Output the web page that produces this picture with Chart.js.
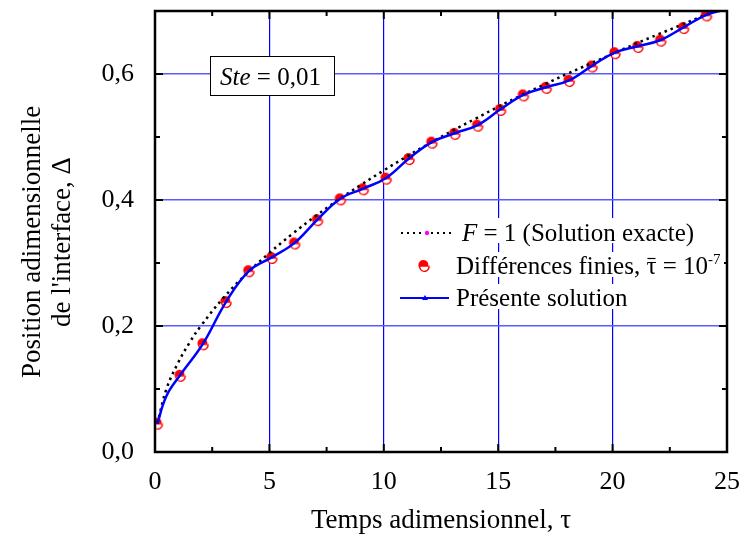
<!DOCTYPE html>
<html>
<head>
<meta charset="utf-8">
<script src="https://cdn.jsdelivr.net/npm/chart.js@4.4.0/dist/chart.umd.min.js"></script>
<style>
  html, body { margin: 0; padding: 0; background: #fff; }
  #wrap { width: 742px; height: 546px; position: relative; }
</style>
</head>
<body>
<div id="wrap"><canvas id="chart"></canvas></div>
<script>
// ==========================================
// Data
// ==========================================

// Différences finies (markers)
const tempsDF = [0.1, 1.1, 2.1, 3.1, 4.1, 5.1, 6.1, 7.1, 8.1, 9.1, 10.1, 11.1, 12.1,
                 13.1, 14.1, 15.1, 16.1, 17.1, 18.1, 19.1, 20.1, 21.1, 22.1, 23.1, 24.1];
const deltaDF = [0.045, 0.121, 0.171, 0.238, 0.287, 0.308, 0.331, 0.368, 0.401, 0.417, 0.434, 0.465, 0.491,
                 0.505, 0.518, 0.543, 0.566, 0.578, 0.589, 0.612, 0.633, 0.643, 0.653, 0.673, 0.693];

// Présente solution (blue line)
const tempsPS = [0.1, 0.5, 1.1, 2.1, 3.1, 4.1, 5.1, 6.1, 7.1, 8.1, 9.1, 10.1, 11.1, 12.1,
                 13.1, 14.1, 15.1, 16.1, 17.1, 18.1, 19.1, 20.1, 21.1, 22.1, 23.1, 24.1, 25];
const deltaPS = [0.045, 0.089, 0.122, 0.172, 0.238, 0.287, 0.309, 0.332, 0.369, 0.402, 0.418, 0.435, 0.466, 0.492,
                 0.506, 0.519, 0.544, 0.567, 0.579, 0.590, 0.613, 0.634, 0.644, 0.654, 0.674, 0.694, 0.703];

// F = 1 (Solution exacte), dotted line
const tempsEx = [0.1, 0.5, 1, 1.5, 2, 3, 4, 5, 6, 7, 8, 9, 10, 11, 12, 13,
                 14, 15, 16, 17, 18, 19, 20, 21, 22, 23, 24, 25];
const deltaEx = [0.045, 0.100, 0.141, 0.173, 0.200, 0.245, 0.283, 0.316, 0.346, 0.374, 0.400, 0.424, 0.447, 0.469, 0.490, 0.510,
                 0.529, 0.548, 0.566, 0.583, 0.600, 0.616, 0.632, 0.648, 0.663, 0.678, 0.693, 0.707];

// Axis ticks and titles
const xTicks = [0, 5, 10, 15, 20, 25];
const yTicks = ['0,0', '0,2', '0,4', '0,6'];
const yTitle = ['Position adimensionnelle', "de l'interface, Δ"];

// ==========================================
// Styling helpers
// ==========================================
const SERIF = '"Liberation Serif", "Times New Roman", serif';
const RED = '#ff0000';
const BLUE = '#0000ff';

const toPoints = (xs, ys) => xs.map((x, i) => ({ x: x, y: ys[i] }));

/**
 * Half-filled circle used for the finite-difference markers
 */
function makeMarker() {
  const c = document.createElement('canvas');
  c.width = 16; c.height = 16;
  const g = c.getContext('2d');
  g.lineWidth = 1.4;
  g.fillStyle = RED;
  g.beginPath(); g.arc(7.4, 7.0, 5.0, 0, Math.PI * 2); g.fill();
  g.fillStyle = '#fff';
  g.strokeStyle = RED;
  g.beginPath(); g.arc(8.4, 8.8, 4.6, 0, Math.PI); g.closePath(); g.fill();
  g.beginPath(); g.arc(8.4, 8.8, 4.6, -0.25, Math.PI + 0.25); g.stroke();
  return c;
}
const marker = makeMarker();

// Text in several runs (italic parts, superscript, overline)
function drawRuns(ctx, x, y, runs) {
  runs.forEach(r => {
    ctx.font = (r.italic ? 'italic ' : '') + r.size + 'px ' + SERIF;
    ctx.fillText(r.text, x, y + (r.dy || 0));
    const w = ctx.measureText(r.text).width;
    if (r.bar) {
      ctx.save();
      ctx.strokeStyle = '#000';
      ctx.lineWidth = 1.2;
      ctx.beginPath();
      ctx.moveTo(x + 1, y - r.size * 0.62);
      ctx.lineTo(x + w - 1, y - r.size * 0.62);
      ctx.stroke();
      ctx.restore();
    }
    x += w;
  });
}

// ==========================================
// Plugin: frame, inside ticks, legend, annotation, y title
// ==========================================
const decorPlugin = {
  id: 'decor',
  afterDatasetsDraw(chart) {
    const ctx = chart.ctx;
    const a = chart.chartArea;
    const sx = chart.scales.x, sy = chart.scales.y;

    ctx.save();
    ctx.strokeStyle = '#000';
    ctx.lineWidth = 2;
    // inside ticks
    sx.ticks.forEach(t => {
      const px = sx.getPixelForValue(t.value);
      const len = t.value % 5 === 0 ? 8 : 5;
      ctx.beginPath();
      ctx.moveTo(px, a.bottom); ctx.lineTo(px, a.bottom - len);
      ctx.moveTo(px, a.top); ctx.lineTo(px, a.top + len);
      ctx.stroke();
    });
    sy.ticks.forEach(t => {
      const py = sy.getPixelForValue(t.value);
      const len = Math.round(t.value * 10) % 2 === 0 ? 8 : 5;
      ctx.beginPath();
      ctx.moveTo(a.left, py); ctx.lineTo(a.left + len, py);
      ctx.moveTo(a.right, py); ctx.lineTo(a.right - len, py);
      ctx.stroke();
    });
    // frame
    ctx.lineWidth = 2.5;
    ctx.strokeRect(a.left, a.top, a.right - a.left, a.bottom - a.top);

    // y-axis title (two lines, rotated)
    ctx.save();
    ctx.fillStyle = '#000';
    ctx.font = '27px ' + SERIF;
    ctx.textAlign = 'center';
    ctx.textBaseline = 'middle';
    ctx.translate(33, 242);
    ctx.rotate(-Math.PI / 2);
    ctx.fillText(yTitle[0], 0, 0);
    ctx.fillText(yTitle[1], 0, 30);
    ctx.restore();

    // annotation box
    ctx.fillStyle = '#fff';
    ctx.fillRect(210, 56, 124, 39);
    ctx.lineWidth = 1;
    ctx.strokeStyle = '#000';
    ctx.strokeRect(210.5, 56.5, 124, 39);
    ctx.fillStyle = '#000';
    ctx.textBaseline = 'alphabetic';
    ctx.textAlign = 'left';
    drawRuns(ctx, 220, 85, [
      { text: 'Ste', italic: true, size: 25 },
      { text: ' = 0,01', size: 25 }
    ]);

    // legend rows (white behind each row)
    ctx.fillStyle = '#fff';
    ctx.fillRect(398, 218, 302, 25);
    ctx.fillRect(410, 252, 314, 25);
    ctx.fillRect(398, 284, 232, 25);

    // row 1: dotted line with magenta dot
    ctx.strokeStyle = '#000';
    ctx.lineWidth = 2;
    ctx.setLineDash([2, 4]);
    ctx.beginPath(); ctx.moveTo(401, 233); ctx.lineTo(451, 233); ctx.stroke();
    ctx.setLineDash([]);
    ctx.fillStyle = '#ff00ff';
    ctx.beginPath(); ctx.arc(427, 233, 2.2, 0, Math.PI * 2); ctx.fill();

    // row 2: marker
    ctx.drawImage(marker, 424 - 8, 266 - 8);

    // row 3: blue line with small triangle
    ctx.strokeStyle = BLUE;
    ctx.lineWidth = 2;
    ctx.beginPath(); ctx.moveTo(400, 298); ctx.lineTo(449, 298); ctx.stroke();
    ctx.fillStyle = BLUE;
    ctx.beginPath(); ctx.moveTo(425, 295); ctx.lineTo(428, 300); ctx.lineTo(422, 300); ctx.closePath(); ctx.fill();

    ctx.fillStyle = '#000';
    drawRuns(ctx, 462, 241, [
      { text: 'F', italic: true, size: 25 },
      { text: ' = 1 (Solution exacte)', size: 25 }
    ]);
    drawRuns(ctx, 456, 274, [
      { text: 'Différences finies, ', size: 25 },
      { text: 'τ', size: 25, bar: true },
      { text: ' = 10', size: 25 },
      { text: '-7', size: 15, dy: -10 }
    ]);
    drawRuns(ctx, 456, 306, [
      { text: 'Présente solution', size: 25 }
    ]);
    ctx.restore();
  }
};

// ==========================================
// Chart
// ==========================================
const ctx = document.getElementById('chart').getContext('2d');
new Chart(ctx, {
  type: 'scatter',
  data: {
    datasets: [
      {
        label: 'Présente solution',
        data: toPoints(tempsPS, deltaPS),
        showLine: true,
        borderColor: BLUE,
        borderWidth: 2.5,
        pointRadius: 0,
        tension: 0.4,
        order: 0
      },
      {
        label: 'F = 1 (Solution exacte)',
        data: toPoints(tempsEx, deltaEx),
        showLine: true,
        borderColor: '#000',
        borderWidth: 2.5,
        borderDash: [2.5, 4],
        pointRadius: 0,
        tension: 0.4,
        order: 1
      },
      {
        label: 'Différences finies',
        data: toPoints(tempsDF, deltaDF),
        showLine: false,
        pointStyle: marker,
        pointRadius: 5,
        order: 2
      }
    ]
  },
  options: {
    responsive: true,
    maintainAspectRatio: false,
    animation: false,
    layout: { padding: { left: 0, right: 15, top: 11, bottom: 0 } },
    plugins: {
      legend: { display: false },
      tooltip: { enabled: false }
    },
    scales: {
      x: {
        type: 'linear',
        min: 0,
        max: 25,
        afterFit(scale) {
          scale.height = 94;
          scale.paddingLeft = 0;
          scale.paddingRight = 0;
        },
        afterBuildTicks(scale) {
          const t = [];
          for (let i = 0; i <= 10; i++) t.push({ value: i * 2.5 });
          scale.ticks = t;
        },
        ticks: {
          padding: 15,
          maxRotation: 0,
          color: '#000',
          font: { family: SERIF, size: 26 },
          callback: v => (xTicks.includes(v) ? String(v) : '')
        },
        grid: {
          drawTicks: false,
          lineWidth: 1.2,
          color: c => (c.tick && c.tick.value % 5 === 0 && c.tick.value > 0 && c.tick.value < 25) ? BLUE : 'rgba(0,0,0,0)'
        },
        border: { display: false },
        title: {
          display: true,
          text: 'Temps adimensionnel, τ',
          color: '#000',
          font: { family: SERIF, size: 27 },
          padding: { top: 0, bottom: 9 }
        }
      },
      y: {
        type: 'linear',
        min: 0,
        max: 0.7,
        afterFit(scale) {
          scale.width = 155;
          scale.paddingTop = 0;
          scale.paddingBottom = 0;
        },
        afterBuildTicks(scale) {
          const t = [];
          for (let i = 0; i <= 7; i++) t.push({ value: i / 10 });
          scale.ticks = t;
        },
        ticks: {
          padding: 21,
          color: '#000',
          font: { family: SERIF, size: 26 },
          callback: v => {
            const k = Math.round(v * 10);
            return k % 2 === 0 ? yTicks[k / 2] : '';
          }
        },
        grid: {
          drawTicks: false,
          lineWidth: 1.5,
          color: c => {
            const k = c.tick ? Math.round(c.tick.value * 10) : 0;
            return (k === 2 || k === 4 || k === 6) ? '#5a5aff' : 'rgba(0,0,0,0)';
          }
        },
        border: { display: false },
        title: { display: false }
      }
    }
  },
  plugins: [decorPlugin]
});
</script>
</body>
</html>
